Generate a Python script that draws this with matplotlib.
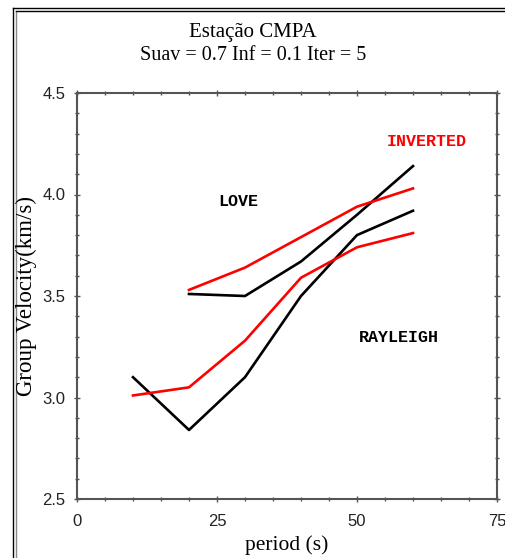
import numpy as np
import matplotlib.pyplot as plt
from matplotlib.lines import Line2D
from matplotlib.ticker import MultipleLocator

# observed and inverted group velocities (km/s)
love_period = [20, 30, 40, 50, 60]
love_obs = [3.51, 3.50, 3.67, 3.90, 4.14]
love_inv = [3.53, 3.64, 3.79, 3.94, 4.03]

ray_period = [10, 20, 30, 40, 50, 60]
ray_obs = [3.10, 2.84, 3.10, 3.50, 3.80, 3.92]
ray_inv = [3.01, 3.05, 3.28, 3.59, 3.74, 3.81]

serif = 'Liberation Serif'
sans = 'Liberation Sans'
mono = 'Liberation Mono'

fig = plt.figure(figsize=(5.06, 5.58), dpi=100)
W, H = 506.0, 558.0

# double frame around the plot
fig.add_artist(Line2D([13/W, 13/W], [0, 1-8/H], color='k', lw=1.0))
fig.add_artist(Line2D([13/W, 1], [1-8/H, 1-8/H], color='k', lw=1.0))
fig.add_artist(Line2D([16/W, 16/W], [0, 1-11/H], color='#888888', lw=1.0))
fig.add_artist(Line2D([16/W, 1], [1-11/H, 1-11/H], color='k', lw=1.0))

ax = fig.add_axes([77/W, 1-499/H, 420/W, 406/H])

ax.plot(love_period, love_obs, color='k', lw=1.9)
ax.plot(love_period, love_inv, color='#ff0000', lw=1.9)
ax.plot(ray_period, ray_obs, color='k', lw=1.9)
ax.plot(ray_period, ray_inv, color='#ff0000', lw=1.9)

ax.text(28.8, 3.967, 'LOVE', family=mono, weight='bold', fontsize=12,
        ha='center', va='center', color='k')
ax.text(57.5, 3.295, 'RAYLEIGH', family=mono, weight='bold', fontsize=12,
        ha='center', va='center', color='k')
ax.text(62.5, 4.26, 'INVERTED', family=mono, weight='bold', fontsize=12,
        ha='center', va='center', color='#ff0000')

ax.set_xlim(0, 75)
ax.set_ylim(2.5, 4.5)
ax.xaxis.set_major_locator(MultipleLocator(25))
ax.xaxis.set_minor_locator(MultipleLocator(5))
ax.yaxis.set_major_locator(MultipleLocator(0.5))
ax.yaxis.set_minor_locator(MultipleLocator(0.1))
ax.yaxis.set_major_formatter(plt.FormatStrFormatter('%.1f'))

for s in ax.spines.values():
    s.set_color('#555555')
    s.set_linewidth(1.5)
ax.tick_params(which='both', direction='inout', top=True, right=True,
               color='#555555', width=1.0)
ax.tick_params(which='major', length=5, labelsize=12, pad=6)
ax.tick_params(axis='x', which='major', pad=8)
ax.tick_params(which='minor', length=3)
for lab in ax.get_xticklabels() + ax.get_yticklabels():
    lab.set_family(sans)
    lab.set_color('#222222')

ax.set_xlabel('period (s)', family=serif, fontsize=15.5, labelpad=5)
fig.text(26/W, 1-296/H, 'Group Velocity(km/s)', family=serif, fontsize=16.5,
         rotation=90, ha='center', va='center')

fig.text(253/W, 1-33/H, 'Estação CMPA', family=serif, fontsize=15,
         ha='center', va='center')
fig.text(253/W, 1-55/H, 'Suav = 0.7 Inf = 0.1 Iter = 5', family=serif,
         fontsize=14.5, ha='center', va='center')

fig.savefig('out.png', dpi=100)
